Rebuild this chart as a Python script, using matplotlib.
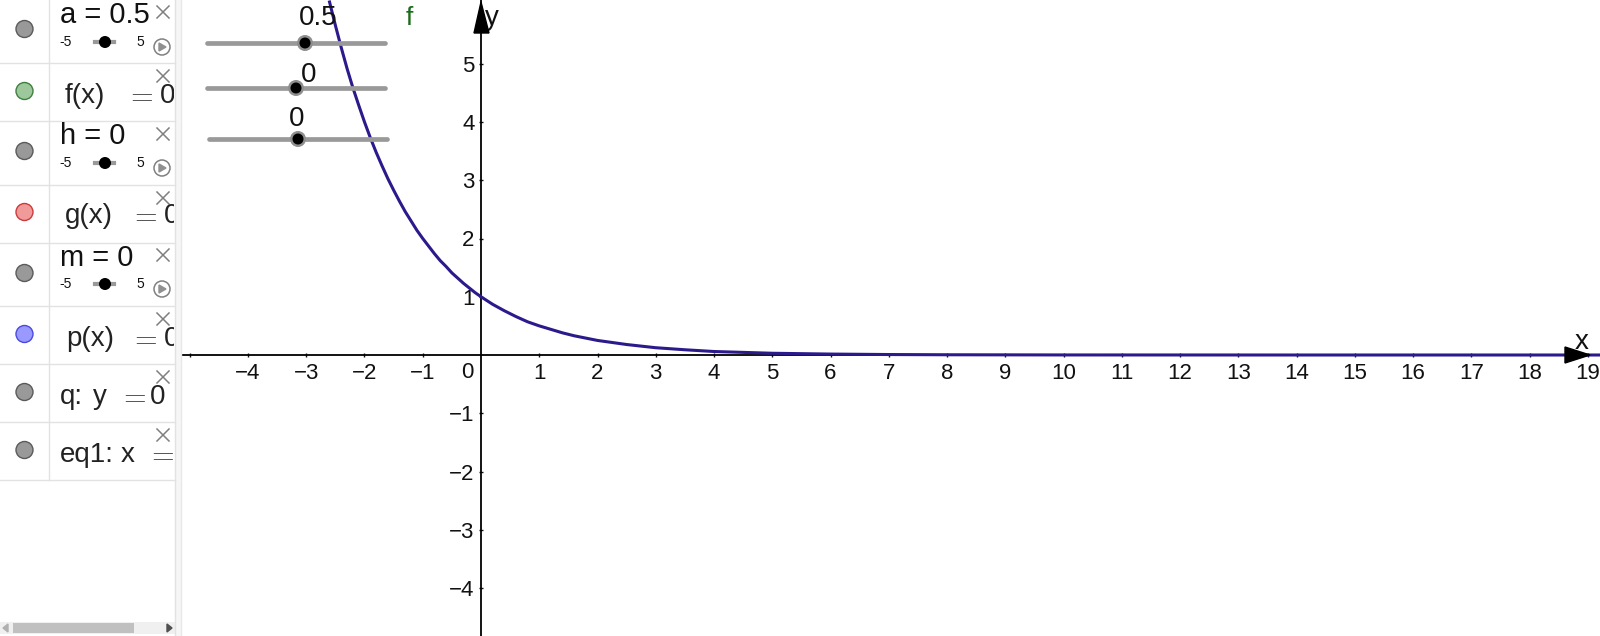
import matplotlib.pyplot as plt
from matplotlib.patches import Circle, Polygon, Rectangle

plt.rcParams['font.family'] = ['Liberation Sans', 'DejaVu Sans']

# values
curve_x = [-2.6, -2.5, -2.4, -2.3, -2.2, -2.1, -2.0, -1.9, -1.8, -1.7, -1.6, -1.5, -1.4, -1.3, -1.2, -1.1,
           -1.0, -0.9, -0.8, -0.7, -0.6, -0.5, -0.4, -0.3, -0.2, -0.1, 0.0,
           0.2, 0.4, 0.6, 0.8, 1.0, 1.2, 1.4, 1.6, 1.8, 2.0, 2.5, 3.0, 3.5, 4.0, 4.5, 5.0,
           6.0, 7.0, 8.0, 10.0, 14.0, 19.3]
curve_y = [6.06, 5.66, 5.28, 4.92, 4.59, 4.29, 4.0, 3.73, 3.48, 3.25, 3.03, 2.83, 2.64, 2.46, 2.3, 2.14,
           2.0, 1.87, 1.74, 1.62, 1.52, 1.41, 1.32, 1.23, 1.15, 1.07, 1.0,
           0.87, 0.76, 0.66, 0.57, 0.5, 0.44, 0.38, 0.33, 0.29, 0.25, 0.18, 0.125, 0.09, 0.06, 0.045, 0.03,
           0.016, 0.008, 0.004, 0.001, 0.0, 0.0]
x_ticks = [-5, -4, -3, -2, -1, 1, 2, 3, 4, 5, 6, 7, 8, 9, 10, 11, 12, 13, 14, 15, 16, 17, 18, 19]
x_labels = ['', '\u22124', '\u22123', '\u22122', '\u22121'] + [str(i) for i in range(1, 20)]
y_ticks = [-4, -3, -2, -1, 1, 2, 3, 4, 5]
y_labels = ['\u22124', '\u22123', '\u22122', '\u22121', '1', '2', '3', '4', '5']

row_lines = [63, 121, 185, 243, 306, 364, 422, 480]
dot_y = [29, 91, 151, 212, 273, 334, 392, 450]
dot_face = ['#999999', '#9cc89c', '#f09a9a', '#9999ff']
dot_edge = ['#5a5a5a', '#3f7f3f', '#cc3a3a', '#4a4ae0']
dot_kind = [0, 1, 0, 2, 0, 3, 0, 0]
close_y = [12, 76, 134, 198, 255, 319, 377, 435]
slider_rows = [('a = 0.5', 23, 42), ('h = 0', 144, 163), ('m = 0', 266, 284)]
# text pieces of the formula rows with the left edge of each one, y is the baseline
formula_rows = [(103, [('f(x)', 65), ('=', 125), ('0', 160)]),
                (223, [('g(x)', 65), ('=', 129), ('0', 164)]),
                (346, [('p(x)', 66), ('=', 129), ('0', 164)]),
                (404, [('q:', 60), ('y', 93), ('=', 118), ('0', 150)]),
                (462, [('eq1:', 60), ('x', 121), ('=', 146)])]
sliders = [(207, 385, 43, 305, '0.5', 318, 18), (207, 385, 88, 296, '0', 309, 75),
           (209, 387, 139, 298, '0', 297, 119)]

fig = plt.figure(figsize=(16, 6.36), dpi=100)

# graphics view, scale is 58.25 px per unit with the origin at (481, 355)
ax = fig.add_axes([182 / 1600, 0, 1418 / 1600, 1])
ax.set_xlim((182 - 481) / 58.25, (1600 - 481) / 58.25)
ax.set_ylim(-281 / 58.25, 355 / 58.25)
ax.patch.set_alpha(0)
ax.spines['left'].set_position('zero')
ax.spines['bottom'].set_position('zero')
ax.spines['top'].set_visible(False)
ax.spines['right'].set_visible(False)
ax.spines['left'].set_linewidth(1.3)
ax.spines['bottom'].set_linewidth(1.3)
ax.set_xticks(x_ticks, x_labels, fontsize=16)
ax.set_yticks(y_ticks, y_labels, fontsize=16)
ax.tick_params(axis='both', direction='inout', length=3, width=1, color='#111111', labelcolor='#111111')
ax.tick_params(axis='x', pad=4.5)
ax.tick_params(axis='y', pad=3)
ax.plot(curve_x, curve_y, color='#2b1a8c', lw=2.2, zorder=5)

# everything else is laid out in pixels
ui = fig.add_axes([0, 0, 1, 1], zorder=3)
ui.set_xlim(0, 1600)
ui.set_ylim(636, 0)
ui.axis('off')
ui.patch.set_alpha(0)

ui.add_patch(Polygon([(481, 2), (474, 33), (489, 33)], color='black', zorder=4))
ui.add_patch(Polygon([(1565, 347), (1590, 355), (1565, 363)], color='black', zorder=4))
ui.text(492, 18, 'y', fontsize=20, ha='center', va='center', color='#111111')
ui.text(1582, 342, 'x', fontsize=20, ha='center', va='center', color='#111111')
ui.text(467, 372, '0', fontsize=16, ha='center', va='center', color='#111111')
ui.text(409, 18, 'f', fontsize=19, ha='center', va='center', color='#1a6b1a')

for x0, x1, y, handle, label, lx, ly in sliders:
    ui.plot([x0, x1], [y, y], color='#999999', lw=3.4, solid_capstyle='round', zorder=3)
    ui.add_patch(Circle((handle, y), 8, fc='#8f8f8f', ec='none', zorder=6))
    ui.add_patch(Circle((handle, y), 5.5, fc='black', ec='none', zorder=7))
    ui.text(lx, ly, label, fontsize=20, ha='center', va='center', color='#111111', zorder=8)

# algebra panel
ui.add_patch(Rectangle((175, 0), 6, 636, fc='#f6f6f6', ec='none'))
ui.plot([175, 175], [0, 636], color='#e2e2e2', lw=1)
ui.plot([181, 181], [0, 636], color='#e8e8e8', lw=1)
ui.plot([49, 49], [0, 480], color='#e2e2e2', lw=1)
for y in row_lines:
    ui.plot([0, 175], [y, y], color='#e2e2e2', lw=1)

for y, kind in zip(dot_y, dot_kind):
    ui.add_patch(Circle((24.5, y), 8.5, fc=dot_face[kind], ec=dot_edge[kind], lw=1))

for y in close_y:
    ui.plot([157, 169], [y - 6, y + 6], color='#808080', lw=1.1)
    ui.plot([157, 169], [y + 6, y - 6], color='#808080', lw=1.1)

clip = Rectangle((0, 0), 174, 636, transform=ui.transData)
for label, base, slider_y in slider_rows:
    ui.text(60, base, label, fontsize=21, ha='left', va='baseline', color='#111111')
    ui.text(66, slider_y, '-5', fontsize=10, ha='center', va='center', color='#111111')
    ui.text(140, slider_y, '5', fontsize=10, ha='center', va='center', color='#111111')
    ui.plot([95, 114], [slider_y, slider_y], color='#999999', lw=3)
    ui.add_patch(Circle((105, slider_y), 6, fc='black', ec='none', zorder=4))
    ui.add_patch(Circle((162, slider_y + 5), 8, fc='white', ec='#808080', lw=1.1))
    ui.add_patch(Polygon([(159, slider_y + 1), (159, slider_y + 9), (166, slider_y + 5)], color='#909090'))

for y, pieces in formula_rows:
    for label, x in pieces:
        if label == '=':
            t = ui.text(x, y, '$=$', fontsize=21, ha='left', va='baseline', color='#333333', math_fontfamily='cm')
        else:
            t = ui.text(x, y, label, fontsize=20, ha='left', va='baseline', color='#222222')
        t.set_clip_path(clip)
        t.set_clip_on(True)

# scrollbar
ui.add_patch(Rectangle((0, 622), 175, 12, fc='#f0f0f0', ec='none'))
ui.add_patch(Rectangle((13, 623), 121, 10, fc='#c0c0c0', ec='none'))
ui.add_patch(Polygon([(8, 624), (8, 632), (3, 628)], color='#b0b0b0'))
ui.add_patch(Polygon([(167, 624), (167, 632), (172, 628)], color='#505050'))

fig.savefig('out.png', dpi=100)
